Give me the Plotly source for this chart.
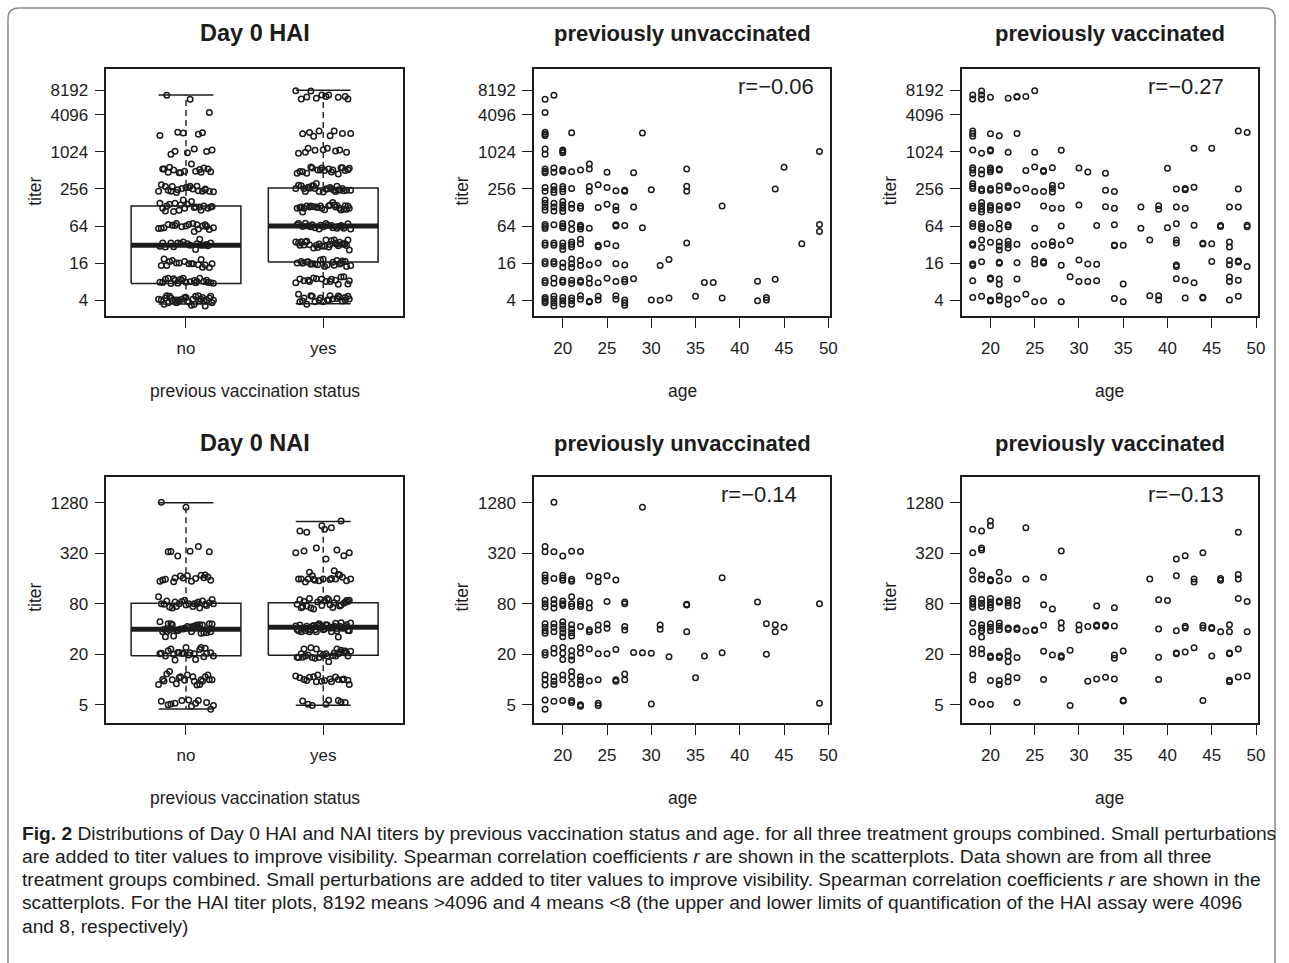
import math
import plotly.graph_objects as go

W, H = 1289, 963

# ------------------------------------------------------------------ data
GROUPS = ["no", "yes"]
AGE_TICKS = [20, 25, 30, 35, 40, 45, 50]
HAI_TICK_VALS = [4, 16, 64, 256, 1024, 4096, 10440]
HAI_TICK_TEXT = ["4", "16", "64", "256", "1024", "4096", "8192"]
NAI_TICK_VALS = [5, 20, 80, 320, 1280]
NAI_TICK_TEXT = ["5", "20", "80", "320", "1280"]

# boxplot statistics (no / yes)
HAI_BOX_LOWER = [3.43, 3.48]
HAI_BOX_Q1 = [7.4, 16.6]
HAI_BOX_MEDIAN = [31, 64]
HAI_BOX_Q3 = [135, 265]
HAI_BOX_UPPER = [8660, 10370]

NAI_BOX_LOWER = [4.45, 4.92]
NAI_BOX_Q1 = [19.2, 19.4]
NAI_BOX_MEDIAN = [39.7, 41.8]
NAI_BOX_Q3 = [81, 82]
NAI_BOX_UPPER = [1280, 761]

# Spearman r: HAI unvac, HAI vac, NAI unvac, NAI vac
R_VALUES = [-0.06, -0.27, -0.14, -0.13]

# (age, perturbed titer)
HAI_UNVAC = [
    (18, 7400), (19, 8600), (18, 4480),
    (18, 2150), (18, 2000), (18, 1900), (21, 2100), (29, 2080),
    (18, 1150), (18, 940), (20, 1100), (20, 1050), (20, 1000), (49, 1040),
    (18, 540), (18, 500), (18, 470), (19, 560), (19, 480), (20, 530), (20, 500), (21, 490),
    (22, 520), (23, 650), (23, 540), (25, 480), (28, 470), (34, 540), (45, 580),
    (18, 270), (18, 235), (19, 285), (19, 250), (19, 225), (20, 280), (20, 255), (20, 230),
    (21, 260), (23, 280), (23, 235), (24, 300), (25, 270), (26, 240), (27, 245), (27, 235),
    (30, 250), (34, 285), (34, 235), (44, 256),
    (18, 170), (18, 150), (18, 130), (18, 115), (19, 150), (19, 130), (19, 112), (20, 160),
    (20, 140), (20, 125), (20, 110), (21, 145), (21, 125), (22, 135), (22, 125), (24, 128),
    (25, 144), (26, 133), (26, 115), (28, 130), (38, 135),
    (18, 68), (18, 63), (18, 58), (19, 67), (20, 70), (20, 64), (20, 60), (21, 70), (21, 56),
    (22, 66), (22, 62), (22, 57), (23, 59), (26, 67), (26, 64), (27, 65), (29, 60), (49, 68), (49, 52),
    (18, 34), (18, 31), (19, 34), (19, 31), (20, 34), (20, 30), (20, 26.5), (21, 35), (21, 32),
    (21, 29), (22, 39), (22, 33), (24, 31), (24, 29.5), (25, 33), (26, 30.5), (34, 34), (47, 33),
    (18, 17), (18, 15.5), (19, 17), (19, 15.5), (20, 16), (20, 13.6), (21, 18.5), (21, 15.5),
    (21, 13.5), (22, 17.5), (22, 14.5), (23, 15), (24, 16), (26, 15.5), (27, 14.8), (31, 14.5), (32, 18.3),
    (18, 8.3), (18, 7.6), (19, 9), (19, 7.5), (20, 8.4), (20, 7.8), (21, 8.4), (21, 7.4), (22, 8.3),
    (22, 7.8), (23, 9), (23, 7.5), (24, 7.6), (25, 9), (26, 8), (27, 8.7), (27, 7.9), (28, 8.9),
    (36, 7.7), (37, 7.7), (42, 8.05), (44, 8.7),
    (18, 4.4), (18, 4.1), (18, 3.8), (18, 3.6), (19, 4.6), (19, 4.1), (19, 3.6), (19, 3.2), (20, 4.4),
    (20, 3.9), (20, 3.4), (21, 4.3), (21, 3.9), (21, 3.4), (22, 4.7), (22, 4.1), (23, 3.8), (23, 3.7),
    (24, 4.6), (24, 4.0), (26, 4.7), (26, 4.1), (27, 4.0), (27, 3.6), (27, 3.3), (30, 4.0), (31, 3.95),
    (32, 4.3), (35, 4.6), (38, 4.3), (42, 3.9), (43, 4.4), (43, 4.0),
]

HAI_VAC = [
    (18, 8650), (18, 7430), (19, 10100), (19, 8650), (19, 7430), (20, 7950), (22, 7650),
    (23, 8200), (23, 8000), (24, 8200), (25, 10200),
    (18, 2250), (18, 2050), (18, 1850), (20, 2030), (21, 1880), (23, 2050), (48, 2250), (49, 2120),
    (18, 1100), (19, 975), (20, 1110), (20, 1060), (22, 1010), (25, 1010), (28, 1090), (43, 1180), (45, 1180),
    (18, 570), (18, 520), (18, 460), (19, 523), (19, 450), (20, 560), (20, 525), (20, 490), (21, 540),
    (21, 520), (24, 510), (25, 585), (26, 510), (26, 495), (27, 565), (30, 560), (31, 485), (33, 460), (40, 556),
    (18, 315), (18, 285), (18, 262), (19, 255), (19, 240), (20, 262), (20, 245), (21, 286), (21, 245),
    (22, 290), (22, 270), (23, 245), (24, 263), (25, 232), (26, 234), (27, 295), (27, 260), (27, 228),
    (28, 288), (33, 245), (34, 232), (41, 256), (42, 262), (42, 250), (43, 274), (48, 256),
    (18, 135), (18, 125), (19, 155), (19, 135), (19, 120), (19, 108), (20, 138), (20, 128), (20, 116),
    (21, 135), (21, 118), (22, 137), (22, 128), (23, 141), (26, 135), (27, 125), (28, 125), (30, 141),
    (33, 132), (34, 125), (37, 130), (39, 137), (39, 120), (41, 130), (42, 125), (47, 130), (48, 130),
    (18, 70), (18, 63), (19, 70), (19, 63), (19, 57), (20, 60), (21, 71), (21, 57), (22, 67), (22, 62),
    (25, 59), (28, 64), (32, 65), (34, 67), (37, 58.6), (40, 60), (41, 69.6), (43, 66), (46, 65),
    (46, 63), (49, 66), (49, 62),
    (18, 33), (18, 31), (19, 37.8), (19, 28.6), (20, 34.8), (21, 35), (21, 30), (21, 26), (22, 36),
    (22, 32), (22, 28), (23, 32.4), (25, 30.3), (26, 32.4), (27, 35.5), (27, 30.9), (28, 31.6),
    (29, 36.8), (34, 31.5), (34, 30.5), (35, 31), (38, 37.7), (41, 38), (41, 34), (44, 33.5),
    (44, 32.5), (45, 33), (47, 35), (47, 29),
    (18, 15.5), (18, 14.5), (19, 16.8), (21, 16.5), (21, 15.8), (23, 16.2), (25, 18.4), (25, 15.4),
    (26, 17), (26, 16), (28, 14.7), (30, 17.9), (31, 15.4), (32, 15.2), (41, 14.8), (41, 14.0),
    (45, 17), (47, 17.5), (47, 15), (48, 17.2), (48, 16.6), (49, 14),
    (18, 8.2), (20, 9.1), (20, 8.7), (21, 8.8), (21, 7.2), (23, 8.8), (29, 9.6), (30, 8), (31, 8),
    (32, 8.2), (35, 7.3), (41, 8.9), (42, 8.4), (43, 7.6), (47, 9.5), (47, 8), (48, 8.4),
    (18, 4.4), (19, 4.6), (20, 4.0), (20, 3.85), (21, 4.65), (21, 4.0), (22, 4.15), (22, 3.4),
    (23, 4.15), (24, 4.95), (25, 3.76), (26, 3.85), (28, 3.76), (34, 4.25), (35, 3.75), (38, 4.7),
    (39, 4.7), (39, 4.0), (42, 4.3), (44, 4.45), (44, 4.3), (47, 4.0), (48, 4.6),
]

NAI_UNVAC = [
    (19, 1295), (29, 1130),
    (18, 383), (18, 333), (19, 333), (20, 296), (21, 338), (22, 336),
    (18, 176), (18, 162), (18, 148), (19, 160), (20, 175), (20, 162), (20, 152), (21, 156),
    (21, 148), (23, 171), (24, 166), (24, 146), (25, 172), (26, 153), (38, 163),
    (18, 88), (18, 80), (18, 73), (19, 90), (19, 80), (19, 71), (20, 86), (20, 80), (20, 76),
    (21, 97), (21, 80), (21, 74), (22, 86), (22, 79), (22, 74), (23, 82), (23, 71), (25, 85),
    (27, 84), (27, 80), (34, 79), (34, 77), (42, 84), (49, 80),
    (18, 46), (18, 42), (18, 38), (18, 35.5), (19, 46), (19, 42), (19, 37), (20, 48.8), (20, 44),
    (20, 40), (20, 36), (20, 32.3), (21, 45), (21, 40), (21, 36), (21, 33), (22, 42.7), (23, 39),
    (23, 37), (24, 44.6), (24, 38.9), (25, 45.9), (25, 40.8), (27, 42.7), (27, 38.9), (31, 44.6),
    (31, 39.6), (34, 37), (43, 46), (44, 45), (44, 37), (45, 42),
    (18, 21), (18, 19.5), (19, 23.5), (19, 20.5), (20, 24), (20, 20.5), (20, 17.3), (21, 22),
    (21, 19), (21, 17), (22, 24), (22, 20.5), (23, 23), (24, 20.3), (25, 20.3), (26, 22.8),
    (28, 21), (29, 20.8), (30, 20.5), (32, 18.7), (36, 19), (38, 20.8), (43, 20),
    (18, 11.3), (18, 10), (18, 8.6), (19, 10.8), (19, 9.5), (19, 8.7), (20, 11.3), (20, 9.9),
    (21, 12.4), (21, 10.8), (21, 8.9), (22, 10.8), (22, 9.8), (22, 8.7), (23, 9.6), (24, 9.9),
    (26, 9.9), (26, 9.5), (27, 11.6), (27, 9.9), (35, 10.5),
    (18, 5.7), (18, 4.4), (19, 5.5), (20, 5.6), (21, 5.6), (21, 5.3), (22, 5.0), (22, 4.8),
    (24, 5.2), (24, 4.9), (30, 5.1), (49, 5.2),
]

NAI_VAC = [
    (18, 617), (19, 590), (20, 776), (20, 680), (24, 644), (48, 570),
    (18, 324), (19, 370), (19, 350), (28, 340), (41, 272), (42, 298), (44, 324),
    (18, 198), (18, 156), (19, 176), (19, 158), (20, 155), (20, 150), (21, 190), (21, 150),
    (22, 157), (24, 158), (26, 165), (38, 158), (41, 172), (43, 158), (43, 145), (46, 160),
    (46, 152), (48, 178), (48, 158),
    (18, 92), (18, 85), (18, 79), (18, 72), (19, 90), (19, 81), (19, 74), (20, 92), (20, 84),
    (20, 77), (20, 71), (21, 86), (21, 83), (22, 89), (22, 82), (22, 75), (23, 88), (23, 76),
    (26, 77.6), (27, 69.2), (32, 75.3), (34, 71.6), (39, 89), (40, 87), (48, 92), (49, 85),
    (18, 46.6), (18, 37), (19, 45), (19, 41), (19, 38), (19, 32), (20, 46), (20, 42), (20, 38),
    (21, 47), (21, 43), (21, 39), (22, 41), (22, 39.5), (23, 41), (23, 39.5), (24, 37.8), (25, 39),
    (25, 38.2), (26, 44.2), (28, 47.5), (28, 40.8), (30, 44.6), (30, 38.9), (31, 42.7), (32, 44.5),
    (32, 43), (33, 44.5), (33, 43), (34, 43.4), (39, 40), (41, 38), (42, 43), (42, 41), (44, 44),
    (44, 41), (45, 41.5), (45, 40.5), (46, 37), (47, 45), (47, 37), (49, 37),
    (18, 23), (18, 20.2), (19, 23), (19, 20.2), (20, 19), (20, 18.2), (21, 19), (21, 18.3),
    (22, 21.7), (22, 19), (22, 16.3), (23, 18.2), (26, 21.7), (27, 19.6), (28, 19.2), (28, 18.4),
    (29, 22.3), (34, 19.5), (34, 17.9), (35, 21.8), (39, 18.4), (41, 20.6), (41, 20.2), (42, 21.2),
    (43, 23.9), (45, 19), (47, 20.6), (47, 20.2), (48, 23),
    (18, 11.3), (18, 9.9), (20, 9.7), (21, 9.7), (21, 8.7), (22, 10.8), (22, 9.4), (23, 10.5),
    (26, 10), (31, 9.5), (32, 10.1), (33, 10.6), (34, 10.1), (39, 10), (47, 9.8), (47, 9.4),
    (48, 10.7), (49, 11),
    (18, 5.4), (19, 5.05), (20, 5.05), (23, 5.3), (29, 4.9), (35, 5.65), (35, 5.55), (44, 5.6),
]

# horizontal jitter of the strip points, in hundredths of a category unit
JITTER = [
    3, -14, 17, -6, 9, -19, 12, -2, 6, -11, 19, -8, 1, 15, -17, 7, -4, 13, -13, 10,
    -1, 18, -9, 4, -16, 11, -5, 16, -12, 2, -20, 8, 14, -7, -15, 5, 20, -3, -10, 12,
    -18, 0, 9, -13, 17, -6, 3, -11, 14, -2, -19, 7, 11, -8, 18, -15, 4, -4, 16, -9,
    1, -17, 13, -1, 6, -12, 19, -5, 10, -14, 2, 15, -20, 8, -7, 12, -16, 5, 17, -10,
    -3, 9, -18, 14, 0, -8, 20, -13, 6, -6, 11, -11, 3, 18, -19, 7, -2, 15, -15, 10,
    -4, 13, -9, 1, 16, -17, 8, -12, 19, -1, 5, -7, 12, -16, 4, 17, -10, -14, 9, -5,
    2, 14, -18, 11, -3, 7, -13, 20, -8, 0, 15, -11, 6, -19, 10, -6, 18, -2, 13, -15,
    3, -9, 16, -17, 8, -4, 12, -20, 1, 19, -12, 5, -7, 14, -1, 10, -16, 17, -10, 6,
    -14, 11, -5, 2, 18, -18, 9, -3, 15, -13, 4, -8, 20, -11, 7, -15, 13, 0, -6, 16,
    -19, 8, -2, 12, -9, 3, 17, -16, 10, -4, 14, -12, 1, 19, -7, 6, -17, 11, -1, 15,
    -10, 5, -14, 18, -5, 9, -20, 13, 2, -11, 16, -8, 4, -15, 11, -3, 19, -12, 7, -18,
    0, 14, -6, 10, -17, 5, -9, 16, -2, 12, -14, 3, 18, -7, 9, -19, 6, -11, 15, -4,
]

CAPTION_LINES = [
    "<b>Fig. 2</b> Distributions of Day 0 HAI and NAI titers by previous vaccination status and age. for all three treatment groups combined. Small perturbations",
    "are added to titer values to improve visibility. Spearman correlation coefficients <i>r</i> are shown in the scatterplots. Data shown are from all three",
    "treatment groups combined. Small perturbations are added to titer values to improve visibility. Spearman correlation coefficients <i>r</i> are shown in the",
    "scatterplots. For the HAI titer plots, 8192 means &gt;4096 and 4 means &lt;8 (the upper and lower limits of quantification of the HAI assay were 4096",
    "and 8, respectively)",
]

# ------------------------------------------------------------------ style
FONT = "Liberation Sans, Arial, Helvetica, sans-serif"
CAP_FONT = "Liberation Sans, Arial, sans-serif"
INK = "#1c1c1c"
MARKER = dict(symbol="circle-open", size=5.5, color=INK, line=dict(width=1.5, color=INK))


def px_x(v):
    return v / W


def px_y(v):
    return 1 - v / H


COL_X = [(107, 405), (537, 835), (967, 1265)]
ROW_Y = [(69, 316), (476.7, 723.3)]

HAI_RANGE = [math.log10(2 ** 1.135), math.log10(2 ** 14.486)]
NAI_RANGE = [math.log10(2 ** 1.585), math.log10(2 ** 11.35)]
AGE_RANGE = [16.76, 50.24]
BOX_RANGE = [0.42, 2.58]

fig = go.Figure()


def add_box(stats, xa, ya):
    lo, q1, med, q3, hi = stats
    for i, g in enumerate(GROUPS):
        pos = i + 1
        hw, cw = 0.4, 0.2
        fig.add_trace(go.Scatter(x=[pos, pos, None, pos, pos], y=[q3[i], hi[i], None, q1[i], lo[i]],
                                 mode="lines", line=dict(color=INK, width=1.4, dash="6px,4px"),
                                 xaxis=xa, yaxis=ya, hoverinfo="skip", showlegend=False))
        fig.add_trace(go.Scatter(x=[pos - cw, pos + cw, None, pos - cw, pos + cw],
                                 y=[hi[i], hi[i], None, lo[i], lo[i]],
                                 mode="lines", line=dict(color=INK, width=1.5),
                                 xaxis=xa, yaxis=ya, hoverinfo="skip", showlegend=False))
        fig.add_trace(go.Scatter(x=[pos - hw, pos + hw, pos + hw, pos - hw, pos - hw],
                                 y=[q1[i], q1[i], q3[i], q3[i], q1[i]],
                                 mode="lines", line=dict(color=INK, width=1.5),
                                 xaxis=xa, yaxis=ya, hoverinfo="skip", showlegend=False))
        fig.add_trace(go.Scatter(x=[pos - hw, pos + hw], y=[med[i], med[i]],
                                 mode="lines", line=dict(color=INK, width=5),
                                 xaxis=xa, yaxis=ya, hoverinfo="skip", showlegend=False))


def add_strip(points, pos, xa, ya, offset=0):
    xs = [pos + JITTER[(k + offset)] / 100 for k in range(len(points))]
    ys = [t for _, t in points]
    fig.add_trace(go.Scatter(x=xs, y=ys, mode="markers", marker=MARKER,
                             xaxis=xa, yaxis=ya, showlegend=False))


def add_scatter(points, xa, ya):
    fig.add_trace(go.Scatter(x=[a for a, _ in points], y=[t for _, t in points],
                             mode="markers", marker=MARKER, xaxis=xa, yaxis=ya, showlegend=False))


# panel 1: HAI box
add_box((HAI_BOX_LOWER, HAI_BOX_Q1, HAI_BOX_MEDIAN, HAI_BOX_Q3, HAI_BOX_UPPER), "x", "y")
add_strip(HAI_UNVAC, 1, "x", "y")
add_strip(HAI_VAC, 2, "x", "y", offset=20)
# panel 2, 3
add_scatter(HAI_UNVAC, "x2", "y2")
add_scatter(HAI_VAC, "x3", "y3")
# panel 4: NAI box
add_box((NAI_BOX_LOWER, NAI_BOX_Q1, NAI_BOX_MEDIAN, NAI_BOX_Q3, NAI_BOX_UPPER), "x4", "y4")
add_strip(NAI_UNVAC, 1, "x4", "y4", offset=40)
add_strip(NAI_VAC, 2, "x4", "y4", offset=60)
# panel 5, 6
add_scatter(NAI_UNVAC, "x5", "y5")
add_scatter(NAI_VAC, "x6", "y6")

axis_common = dict(showline=True, mirror=True, linecolor=INK, linewidth=1.5,
                   ticks="outside", ticklen=10, tickwidth=1.3, tickcolor=INK,
                   showgrid=False, zeroline=False, fixedrange=True,
                   tickfont=dict(family=FONT, size=17, color=INK))

layout = dict(width=W, height=H, autosize=False,
              margin=dict(l=0, r=0, t=0, b=0),
              paper_bgcolor="white", plot_bgcolor="white", showlegend=False)

for idx in range(6):
    r, c = divmod(idx, 3)
    n = "" if idx == 0 else str(idx + 1)
    x0, x1 = COL_X[c]
    ytop, ybot = ROW_Y[r]
    xa = dict(axis_common, domain=[px_x(x0), px_x(x1)], anchor="y" + n, ticklabelstandoff=6)
    ya = dict(axis_common, domain=[px_y(ybot), px_y(ytop)], anchor="x" + n, type="log",
              ticklabelstandoff=3)
    if c == 0:
        xa.update(range=BOX_RANGE, tickvals=[1, 2], ticktext=GROUPS)
    else:
        xa.update(range=AGE_RANGE, tickvals=AGE_TICKS)
    if r == 0:
        ya.update(range=HAI_RANGE, tickvals=HAI_TICK_VALS, ticktext=HAI_TICK_TEXT)
    else:
        ya.update(range=NAI_RANGE, tickvals=NAI_TICK_VALS, ticktext=NAI_TICK_TEXT)
    layout["xaxis" + n] = xa
    layout["yaxis" + n] = ya

annotations = []


def ann(text, x, y, size, bold=False, family=FONT, angle=0, xanchor="center"):
    annotations.append(dict(text=("<b>%s</b>" % text) if bold else text,
                            x=px_x(x), y=px_y(y), xref="paper", yref="paper",
                            xanchor=xanchor, yanchor="middle", showarrow=False,
                            textangle=angle, font=dict(family=family, size=size, color=INK)))


TITLES = [["Day 0 HAI", "previously unvaccinated", "previously vaccinated"],
          ["Day 0 NAI", "previously unvaccinated", "previously vaccinated"]]
XTITLES = ["previous vaccination status", "age", "age"]
TITLE_Y = [33, 443]
XTITLE_Y = [391, 798]
YTITLE_Y = [191, 597]
CENTERS = [256, 686, 1116]
for r in range(2):
    for c in range(3):
        ann(TITLES[r][c], CENTERS[c], TITLE_Y[r], 23.5 if c == 0 else 22, bold=True)
        ann(XTITLES[c], CENTERS[c], XTITLE_Y[r], 17.5)
        ann("titer", COL_X[c][0] - 72, YTITLE_Y[r], 17.5, angle=-90)

R_POS = [(780, 86), (1192, 86), (763, 495), (1192, 495)]
for (x, y), rv in zip(R_POS, R_VALUES):
    ann("r=\u2212%.2f" % abs(rv), x, y, 22)

for i, line in enumerate(CAPTION_LINES):
    ann(line, 20, 833 + i * 23.3, 19.2, family=CAP_FONT, xanchor="left")

layout["annotations"] = annotations


# rounded outer frame (bottom edge lies below the visible page)
def P(x, y):
    return "%.5f,%.5f" % (px_x(x), px_y(y))


frame_path = ("M " + P(8, 990) + " L " + P(8, 19) + " Q " + P(8, 8) + " " + P(19, 8) +
              " L " + P(1271, 8) + " Q " + P(1282, 8) + " " + P(1282, 19) + " L " + P(1282, 990))
layout["shapes"] = [dict(type="path", path=frame_path, xref="paper", yref="paper",
                         line=dict(color="#8a8a8a", width=1.5))]

fig.update_layout(**layout)
fig.write_html("out.html")
